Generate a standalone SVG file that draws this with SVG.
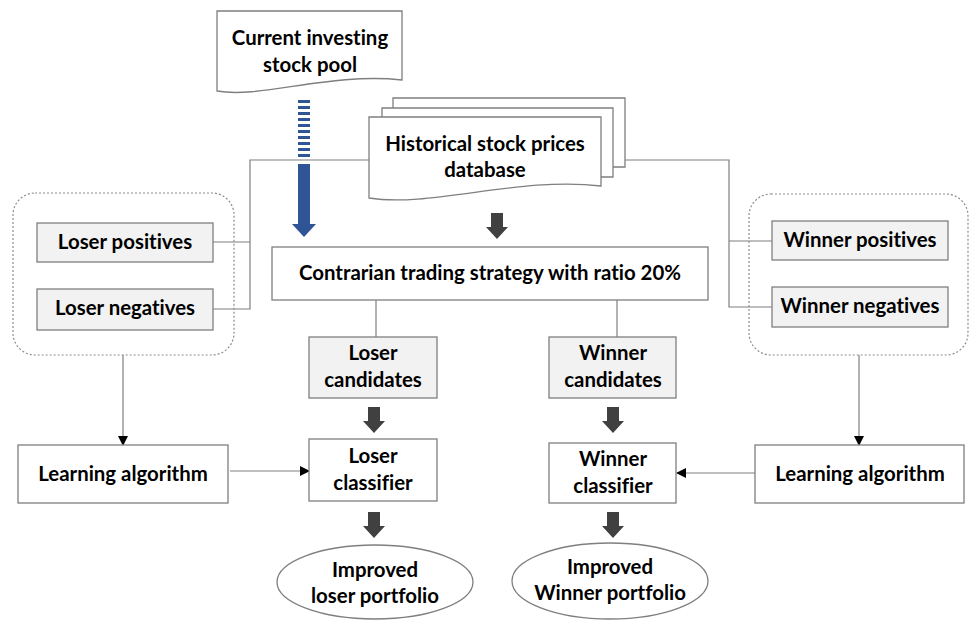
<svg xmlns="http://www.w3.org/2000/svg" width="971" height="622" viewBox="0 0 971 622">
<defs>
<style>
.t{font-family:Lato,"Liberation Sans",sans-serif;font-weight:700;font-size:20.4px;fill:#000;text-anchor:middle;font-variant-ligatures:none}
.box{fill:#fff;stroke:#7f7f7f;stroke-width:1.3}
.gbox{fill:#f2f2f2;stroke:#7f7f7f;stroke-width:1.3}
.ln{fill:none;stroke:#7f7f7f;stroke-width:1.2}
.dot{fill:none;stroke:#8c8c8c;stroke-width:1.2;stroke-dasharray:2 2}
.dk{fill:#404040}
</style>
<marker id="ah" markerWidth="10" markerHeight="10" refX="9" refY="5" orient="auto" markerUnits="userSpaceOnUse">
<path d="M0,0 L10,5 L0,10 Z" fill="#000"/>
</marker>
<path id="darr" d="M-6,0 H6 V14 H11 L0,26 L-11,14 H-6 Z"/>
</defs>

<g id="connectors">
<path class="ln" d="M369,160 H250 V309 H213"/>
<path class="ln" d="M250,242 H213"/>
<path class="ln" d="M598,160 H729 V307 H772"/>
<path class="ln" d="M729,241 H772"/>
<path class="ln" d="M123,355 V445" marker-end="url(#ah)"/>
<path class="ln" d="M859,355 V445" marker-end="url(#ah)"/>
<path class="ln" d="M230,471 H309" marker-end="url(#ah)"/>
<path class="ln" d="M755,473 H677" marker-end="url(#ah)"/>
<path class="ln" d="M376,300 V337"/>
<path class="ln" d="M617,300 V337"/>
<g fill="#2f5597">
<rect x="298" y="100" width="12" height="3"/>
<rect x="298" y="106" width="12" height="3"/>
<rect x="298" y="112" width="12" height="3"/>
<rect x="298" y="118" width="12" height="3"/>
<rect x="298" y="124" width="12" height="3"/>
<rect x="298" y="130" width="12" height="3"/>
<rect x="298" y="136" width="12" height="3"/>
<rect x="298" y="142" width="12" height="3"/>
<rect x="298" y="148" width="12" height="3"/>
<rect x="298" y="154" width="12" height="3"/>
<path d="M298,164 H310 V224 H316 L304,237 L292,224 H298 Z"/>
</g>
<use href="#darr" class="dk" x="497" y="213"/>
<use href="#darr" class="dk" x="374" y="407"/>
<use href="#darr" class="dk" x="613" y="407"/>
<use href="#darr" class="dk" x="374" y="512"/>
<use href="#darr" class="dk" x="613" y="512"/>
</g>

<g id="current-pool">
<path class="box" d="M217,11 H402 V80 C330,72 260,99 217,91 Z"/>
<text class="t" x="310" y="45">Current investing</text>
<text class="t" x="310" y="72">stock pool</text>
</g>

<g id="historical-db">
<path class="box" d="M393,108 V98 H625 V167 H613"/>
<path class="box" d="M382,117 V108 H613 V177 H601"/>
<path class="box" d="M369,117 H601 V186 C520,176 430,208 369,198 Z"/>
<text class="t" x="485" y="151">Historical stock prices</text>
<text class="t" x="485" y="177">database</text>
</g>

<g id="loser-group">
<rect class="dot" x="13" y="193" width="221" height="162" rx="22"/>
</g>
<g id="loser-positives">
<rect class="gbox" x="37" y="223" width="176" height="39"/>
<text class="t" x="125" y="249">Loser positives</text>
</g>
<g id="loser-negatives">
<rect class="gbox" x="37" y="289" width="176" height="41"/>
<text class="t" x="125" y="315">Loser negatives</text>
</g>

<g id="winner-group">
<rect class="dot" x="749" y="194" width="219" height="161" rx="22"/>
</g>
<g id="winner-positives">
<rect class="gbox" x="772" y="221" width="176" height="39"/>
<text class="t" x="860" y="247">Winner positives</text>
</g>
<g id="winner-negatives">
<rect class="gbox" x="772" y="287" width="176" height="40"/>
<text class="t" x="860" y="313">Winner negatives</text>
</g>

<g id="contrarian">
<rect class="box" x="272" y="247" width="436" height="53"/>
<text class="t" x="490" y="280">Contrarian trading strategy with ratio 20%</text>
</g>

<g id="loser-candidates">
<rect class="gbox" x="309" y="337" width="128" height="61"/>
<text class="t" x="373" y="360">Loser</text>
<text class="t" x="373" y="387">candidates</text>
</g>
<g id="winner-candidates">
<rect class="gbox" x="549" y="337" width="127" height="61"/>
<text class="t" x="613" y="360">Winner</text>
<text class="t" x="613" y="387">candidates</text>
</g>

<g id="learning-left">
<rect class="box" x="18" y="445" width="210" height="58"/>
<text class="t" x="123" y="481">Learning algorithm</text>
</g>
<g id="learning-right">
<rect class="box" x="755" y="445" width="209" height="58"/>
<text class="t" x="860" y="481">Learning algorithm</text>
</g>

<g id="loser-classifier">
<rect class="box" x="309" y="439" width="128" height="62"/>
<text class="t" x="373" y="463">Loser</text>
<text class="t" x="373" y="490">classifier</text>
</g>
<g id="winner-classifier">
<rect class="box" x="549" y="443" width="127" height="60"/>
<text class="t" x="613" y="466">Winner</text>
<text class="t" x="613" y="493">classifier</text>
</g>

<g id="loser-portfolio">
<ellipse class="box" cx="375" cy="582" rx="98" ry="37"/>
<text class="t" x="375" y="577">Improved</text>
<text class="t" x="375" y="603">loser portfolio</text>
</g>
<g id="winner-portfolio">
<ellipse class="box" cx="610" cy="581" rx="98" ry="38"/>
<text class="t" x="610" y="574">Improved</text>
<text class="t" x="610" y="600">Winner portfolio</text>
</g>
</svg>
